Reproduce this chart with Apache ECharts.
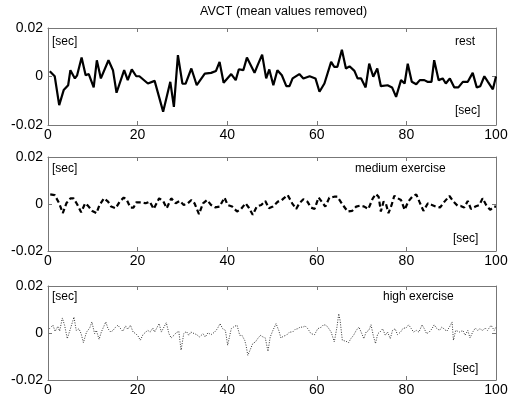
<!DOCTYPE html>
<html>
<head>
<meta charset="utf-8">
<script src="https://cdn.jsdelivr.net/npm/echarts@6/dist/echarts.min.js"></script>
<style>html,body{margin:0;padding:0;background:#fff}#c{width:512px;height:403px}</style>
</head>
<body>
<div id="c"></div>
<script>
const titleText = 'AVCT (mean values removed)';
const panelNames = ['rest', 'medium exercise', 'high exercise'];
const xTicks = [0, 20, 40, 60, 80, 100];
const yTicks = [-0.02, 0, 0.02];

const restT = [0.4,1.5,2.5,3.5,4.5,5,6,6.5,7.5,8.4,9.1,10.2,10.9,11.8,13.5,14.5,15.3,17,17.8,18.7,19.7,20.4,22.3,23.8,25.7,27.3,28.1,29,30,30.7,32,33.2,35,36.4,37.5,38.3,39.2,40.9,41.9,42.6,43.6,44.4,46.1,46.8,47.8,48.7,49.4,50.3,51.2,52.2,53.2,53.9,54.6,56.1,57,58.4,59.7,60.6,61.7,63.2,63.9,64.6,65.6,66.5,67.3,68.4,69.1,69.9,70.9,71.7,72.6,73.5,74.3,75.8,76.8,77.7,78.8,79.6,80.3,81.2,82.2,83,84,84.7,85.6,86.2,87.2,88.1,88.8,89.7,90.7,91.6,92.6,93.7,94.8,95.7,96.5,97.4,98.2,99.3,100];
const restV = [0.0022,0.0001,-0.0118,-0.0056,-0.0036,0.0026,-0.0008,0.0005,0.0078,0.0005,0.001,-0.0045,0.0067,-0.0008,0.0067,0.0026,-0.0067,0.0026,-0.0015,0.0029,0.0001,0.0001,-0.0029,-0.0018,-0.0145,-0.0022,-0.0125,0.0088,-0.0029,-0.003,0.0033,-0.0036,0.0012,0.0015,0.0023,0.006,-0.0026,0.001,-0.0015,0.003,0.0026,0.0078,0.0015,0.0047,0.009,-0.0008,0.0029,-0.0036,0.0026,0.0005,-0.004,-0.004,-0.0008,0.001,-0.0008,0.0001,-0.0008,-0.0063,-0.0029,0.006,0.004,0.004,0.011,0.0033,0.0042,0.0023,-0.0008,-0.0008,-0.0045,0.0053,-0.0001,0.0033,-0.004,-0.0036,-0.0045,-0.0084,-0.0015,-0.0029,0.0053,-0.0022,-0.0032,-0.0015,-0.0015,-0.0022,-0.0022,0.0067,-0.0015,-0.0008,-0.0029,-0.0008,-0.0045,-0.0045,-0.0022,-0.0022,0.0015,-0.0045,-0.004,0.0001,-0.0022,-0.0053,0];

const medT = [0.5,1.5,2.5,3.3,4.1,5,5.7,6.5,7.4,8.3,8.9,9.9,10.8,11.5,12.5,13.4,14.1,15.1,16,16.9,17.5,18.4,19.1,19.7,20.8,21.8,22.7,23.6,24.8,25.7,26.5,27.5,28.5,29.4,30.3,31.2,32,32.7,33.7,34.6,35.5,36.4,37.3,38.3,39.4,40.1,41.1,42.2,43.1,44.1,44.8,45.7,46.6,47.6,48.5,49.3,50.2,51.3,52,52.6,53.5,54.5,55.4,56.1,57,57.9,58.7,59.5,60.4,61.1,61.9,62.8,63.9,64.6,65.8,66.9,67.9,68.8,69.7,70.6,71.5,72.5,73.2,73.8,74.3,74.9,75.4,76,76.7,77.3,78.1,78.8,79.6,80.4,81.3,82.2,82.9,83.8,84.8,85.7,86.6,87.5,88.5,89.6,90.5,91.4,92.1,92.9,93.7,94.4,95.4,96.3,97,97.8,98.7,99.6,100];
const medV = [0.0041,0.0038,0.0003,-0.0039,0.0003,0.0024,0.0024,-0.0001,-0.0035,0.0003,-0.0007,-0.003,-0.0039,-0.0004,0.0024,0.001,-0.0011,-0.0018,0.001,0.0027,0.0021,-0.0015,-0.0015,0.0007,0.0007,0.0003,0.001,-0.0021,0.0024,0.0013,-0.0018,0.0024,0.0003,0.0013,-0.0004,0.0003,0.0017,0.0003,-0.0043,0.0003,0.0017,-0.0004,-0.0014,-0.0011,0.0027,-0.0004,-0.0011,-0.0032,-0.0021,0.0003,-0.0015,-0.0046,-0.0011,-0.0004,0.0013,-0.0018,-0.0011,0.001,0.0013,0.0024,0.0038,0.0003,-0.0021,0.0003,0.002,0.001,-0.0015,-0.0021,0.0028,0.001,-0.0011,0.0027,0.0031,0.0031,-0.0004,-0.0032,-0.0029,-0.0011,-0.0007,-0.0011,-0.0021,0.0024,0.0042,0.0031,-0.0032,0.001,0.0003,-0.0039,-0.0004,0.0035,0.0024,0.0017,-0.0025,0.001,0.0031,0.0041,0.001,-0.0029,0.0003,-0.0004,-0.0011,-0.0015,0.001,0.0034,0.001,-0.0007,-0.0008,-0.0015,0.0013,-0.0021,-0.0011,-0.0004,0.0024,-0.0004,-0.0025,-0.0011,-0.0011];

const highT = [0.3,1.1,1.6,2.2,2.6,3.2,3.7,4.3,5,5.8,6.3,6.9,7.4,7.9,8.6,9.3,9.8,10.4,10.8,11.4,11.9,12.9,13.4,14,14.5,15.1,15.6,16.1,16.7,17.3,17.8,18.4,19,19.6,20.1,20.6,21.2,21.8,22.3,22.8,23.4,23.8,24.2,24.8,25.3,25.7,26.4,27,27.5,28.1,28.6,29.2,29.7,30.3,30.9,31.4,31.9,32.7,33.2,33.8,34.6,35.1,35.7,36.4,37.2,37.8,38.4,39,39.6,40.1,40.9,41.6,42.2,42.8,43.3,43.9,44.2,44.6,45.1,45.7,46.3,46.8,47.4,48,48.5,49.1,49.6,50.2,50.9,51.5,52,52.6,53.2,53.9,54.6,55.2,55.7,56.3,56.9,57.4,58,58.7,59.5,60.2,61,61.5,62.1,62.7,63.2,63.9,64.5,64.9,65.2,65.7,66.1,66.5,67.1,67.6,68.2,68.8,69.4,69.9,70.5,71,71.6,72.1,72.6,73.1,73.6,74.1,74.7,75.3,75.8,76.4,76.9,77.5,78,78.7,79.3,79.9,80.5,81,81.6,82.2,82.8,83.5,84,84.5,85.1,85.7,86.2,86.7,87.4,87.9,88.5,89,89.6,90.2,90.5,91,91.4,91.9,92.6,93.1,93.7,94.2,94.8,95.4,95.9,96.4,97,97.6,98.1,98.9,99.6,100];
const highV = [0.0018,0.0033,0.0007,0.0028,0.0008,0.0064,0.0033,-0.0024,0.0018,0.0068,0.0011,0.0018,-0.0003,-0.0041,0.0004,0.0021,0.0047,-0.0003,0.0011,-0.0027,0.0004,0.0047,0.0018,0.0004,0.0011,0.0025,0.0033,0.0021,0.0007,0.003,0.0016,0.0033,0.0004,-0.0003,-0.0013,-0.0031,-0.0007,0.0004,0.0011,0.0004,0.0021,0.0004,0.0011,0.004,0.0004,0.0011,0.0044,-0.0003,-0.0021,-0.001,0.0001,0.0007,-0.0073,-0.0003,0.0007,-0.001,0.0004,-0.0003,-0.0007,-0.0017,-0.0003,-0.0017,0.0001,-0.0007,0.0004,0.0018,0.004,0.0018,0.0011,-0.0052,0.0018,0.0028,0.0033,-0.001,-0.001,-0.0031,-0.0052,-0.0095,-0.0073,-0.0045,-0.0038,-0.0024,-0.001,-0.0017,-0.0021,-0.0078,-0.0017,0.0011,0.004,0.0011,-0.0021,-0.0013,-0.001,0.0004,0.0004,0.0016,0.0018,0.0025,0.0025,0.003,0.0018,-0.0003,-0.0007,0.0018,0.0025,0.0035,0.0033,0.0018,0.0004,-0.0038,0.0025,0.0082,0.0054,-0.0031,-0.0027,-0.0035,-0.0041,-0.0024,-0.001,0.0011,0.0025,0.0004,-0.0024,0.0004,0.0011,0.0035,-0.001,-0.0045,-0.0003,0.0004,0.0018,-0.001,0.0004,-0.0024,0.0011,0.0018,-0.0007,0.0004,0.0021,0.0021,0.0035,0.0021,0.0004,0.0011,0.0004,0.0035,0.0018,-0.0003,0.0004,0.0018,0.0035,0.0021,0.0011,0.0025,0.0016,0.0007,0.0025,0.0047,-0.0031,0.0011,0.0018,0.0004,0.0011,-0.001,0.0011,-0.0021,0.0004,0.0021,0.0011,0.0018,0.0011,0.0021,0.0011,0.0033,0.0011,0.0025];

const zip = (t, v) => t.map((x, i) => [x, v[i]]);

const grids = [
  {left: 48, right: 16, top: 28, height: 97},
  {left: 48, right: 16, top: 157, height: 94},
  {left: 48, right: 16, top: 286, height: 94}
];
const frame = '#777';
const font = 'Liberation Sans, Arial, Helvetica, sans-serif';
const xAxis = [], yAxis = [];
grids.forEach((g, i) => {
  const base = {gridIndex: i, type: 'value', min: 0, max: 100, interval: 20,
    axisLine: {show: true, onZero: false, lineStyle: {color: frame, width: 1}},
    axisTick: {show: true, inside: true, length: 4, lineStyle: {color: frame}},
    splitLine: {show: false}};
  xAxis.push(Object.assign({}, base, {position: 'bottom',
    axisLabel: {show: true, color: '#000', fontSize: 14, fontFamily: font, margin: 3,
      customValues: xTicks}}));
  xAxis.push(Object.assign({}, base, {position: 'top', axisLabel: {show: false}}));
  const ybase = {gridIndex: i, type: 'value', min: -0.02, max: 0.02, interval: 0.02,
    axisLine: {show: true, onZero: false, lineStyle: {color: frame, width: 1}},
    axisTick: {show: true, inside: true, length: 4, lineStyle: {color: frame}},
    splitLine: {show: false}};
  yAxis.push(Object.assign({}, ybase, {position: 'left',
    axisLabel: {show: true, color: '#000', fontSize: 14, fontFamily: font, margin: 5,
      formatter: v => String(parseFloat(v.toFixed(4)))}}));
  yAxis.push(Object.assign({}, ybase, {position: 'right', axisLabel: {show: false}}));
});

const series = [
  {type: 'line', xAxisIndex: 0, yAxisIndex: 0, data: zip(restT, restV), showSymbol: false,
    lineStyle: {color: '#000', width: 2.2, type: 'solid'}, animation: false},
  {type: 'line', xAxisIndex: 2, yAxisIndex: 2, data: zip(medT, medV), showSymbol: false,
    lineStyle: {color: '#000', width: 2.2, type: [5, 3]}, animation: false},
  {type: 'line', xAxisIndex: 4, yAxisIndex: 4, data: zip(highT, highV), showSymbol: false,
    lineStyle: {color: '#333', width: 1, type: [1, 1.5]}, animation: false}
];

const txt = (x, y, s, size) => ({type: 'text', left: x, top: y,
  style: {text: s, fill: '#000', font: size + 'px ' + font}, silent: true});
const graphic = [
  {type: 'text', left: 200, top: 5, silent: true,
    style: {text: titleText, fill: '#000', font: '12.5px ' + font}},
  txt(52, 36, '[sec]', 12), txt(455, 36, panelNames[0], 12), txt(455, 105, '[sec]', 12),
  txt(52, 163, '[sec]', 12), txt(355, 163, panelNames[1], 12), txt(453, 233, '[sec]', 12),
  txt(52, 291, '[sec]', 12), txt(383, 291, panelNames[2], 12), txt(453, 363, '[sec]', 12)
];

const chart = echarts.init(document.getElementById('c'), null, {renderer: 'canvas'});
chart.setOption({
  animation: false,
  backgroundColor: '#fff',
  grid: grids,
  xAxis: xAxis,
  yAxis: yAxis,
  series: series,
  graphic: graphic
});
</script>
</body>
</html>
